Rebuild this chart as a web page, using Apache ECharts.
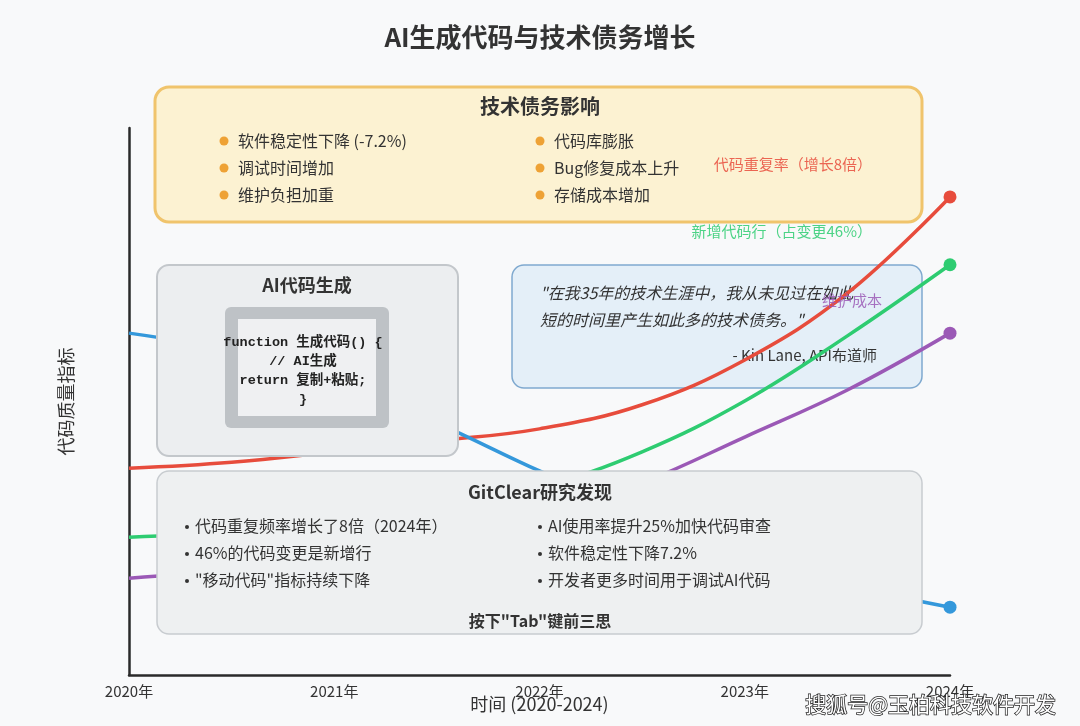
<!DOCTYPE html>
<html style="height: 100%">
<head>
    <meta charset="utf-8">
    <script src="https://cdn.jsdelivr.net/npm/echarts@6/dist/echarts.min.js"></script>
</head>
<body style="height: 100%; margin: 0; background: #f8f9fa">
    <div id="main" style="width:1080px;height:726px;"></div>
    <script type="text/javascript">
        // 数据（从原图读取，半年一个点）
        var years = [2020, 2020.5, 2021, 2021.5, 2022, 2022.5, 2023, 2023.5, 2024];
        var dupRate = [37.8, 38.9, 40.8, 42.8, 45.0, 49.4, 57.6, 69.8, 87.4];
        var newLines = [25.2, 26.0, 27.2, 29.8, 34.2, 40.8, 50.1, 62.0, 75.0];
        var maintCost = [17.7, 19.2, 21.0, 23.8, 28.5, 35.1, 43.5, 52.1, 62.5];
        var movedCode = [62.5, 59.2, 53.9, 46.1, 37.3, 29.3, 22.3, 16.5, 12.4];

        var debtLeft = ['软件稳定性下降 (-7.2%)', '调试时间增加', '维护负担加重'];
        var debtRight = ['代码库膨胀', 'Bug修复成本上升', '存储成本增加'];
        var codeLines = ['function 生成代码() {', '// AI生成', 'return 复制+粘贴;', '}'];
        var quoteLines = ['"在我35年的技术生涯中，我从未见过在如此', '短的时间里产生如此多的技术债务。"'];
        var findLeft = ['代码重复频率增长了8倍（2024年）', '46%的代码变更是新增行', '"移动代码"指标持续下降'];
        var findRight = ['AI使用率提升25%加快代码审查', '软件稳定性下降7.2%', '开发者更多时间用于调试AI代码'];

        var FONT = '"Noto Sans CJK SC", "Noto Sans", sans-serif';
        var myChart = echarts.init(document.getElementById('main'));

        function makeSeries(name, vals, color, label, lx) {
            var data = [];
            for (var i = 0; i < years.length; i++) {
                if (i === years.length - 1) {
                    var item = { value: [years[i], vals[i]], symbol: 'circle', symbolSize: 13 };
                    if (label) {
                        item.label = {
                            show: true, formatter: label, position: [lx, -26.5],
                            align: 'right', verticalAlign: 'middle',
                            color: color, opacity: 0.85, fontSize: 15, fontFamily: FONT
                        };
                    }
                    data.push(item);
                } else {
                    data.push([years[i], vals[i]]);
                }
            }
            return {
                name: name, type: 'line', smooth: 0.4, symbol: 'none', z: 2,
                lineStyle: { color: color, width: 3.5 },
                itemStyle: { color: color },
                data: data
            };
        }

        function txt(x, y, text, size, opts) {
            opts = opts || {};
            return {
                type: 'text', z: opts.z || 11,
                style: {
                    x: x, y: y, text: text,
                    fontSize: size, fontFamily: opts.family || FONT,
                    fontWeight: opts.bold ? 'bold' : 'normal',
                    fontStyle: opts.italic ? 'italic' : 'normal',
                    fill: opts.color || '#333',
                    align: opts.align || 'left', verticalAlign: 'middle'
                }
            };
        }

        var graphics = [];
        // 标题
        graphics.push(txt(540, 37, 'AI生成代码与技术债务增长', 26, { bold: true, align: 'center' }));

        // 技术债务影响
        graphics.push({ type: 'rect', z: 1, shape: { x: 155, y: 87, width: 767, height: 135, r: 14 },
            style: { fill: '#fcf2d2', stroke: '#f0c46c', lineWidth: 3 } });
        graphics.push(txt(540, 106, '技术债务影响', 20, { bold: true, align: 'center', z: 1 }));
        for (var i = 0; i < debtLeft.length; i++) {
            var yy = 141 + i * 27;
            graphics.push({ type: 'circle', z: 1, shape: { cx: 224, cy: yy, r: 4.5 }, style: { fill: '#eea235' } });
            graphics.push(txt(238, yy, debtLeft[i], 16, { z: 1 }));
            graphics.push({ type: 'circle', z: 1, shape: { cx: 540, cy: yy, r: 4.5 }, style: { fill: '#eea235' } });
            graphics.push(txt(554, yy, debtRight[i], 16, { z: 1 }));
        }

        // AI代码生成
        graphics.push({ type: 'rect', z: 10, shape: { x: 157, y: 265, width: 301, height: 191, r: 12 },
            style: { fill: '#eceef0', stroke: '#c3c7cb', lineWidth: 2 } });
        graphics.push(txt(307, 285, 'AI代码生成', 18, { bold: true, align: 'center' }));
        graphics.push({ type: 'rect', z: 11, shape: { x: 225, y: 307, width: 164, height: 121, r: 6 },
            style: { fill: '#bec2c6' } });
        graphics.push({ type: 'rect', z: 11, shape: { x: 238, y: 319, width: 138, height: 97 },
            style: { fill: '#eff0f2' } });
        for (var i = 0; i < codeLines.length; i++) {
            graphics.push(txt(303, 343 + i * 19, codeLines[i], 13.5,
                { bold: true, align: 'center', z: 12, color: '#222', family: '"Courier New", "Liberation Mono", "Noto Sans CJK SC", monospace' }));
        }

        // 引言
        graphics.push({ type: 'rect', z: 1, shape: { x: 512, y: 265, width: 410, height: 123, r: 12 },
            style: { fill: 'rgba(215,231,246,0.6)', stroke: '#7fa9cf', lineWidth: 1.5 } });
        graphics.push(txt(540, 293, quoteLines[0], 16, { italic: true, z: 1 }));
        graphics.push(txt(540, 320, quoteLines[1], 16, { italic: true, z: 1 }));
        graphics.push(txt(877, 355, '- Kin Lane, API布道师', 15, { align: 'right', z: 1 }));

        // GitClear研究发现
        graphics.push({ type: 'rect', z: 10, shape: { x: 157, y: 471, width: 765, height: 163, r: 12 },
            style: { fill: '#eef0f1', stroke: '#c8ccd0', lineWidth: 1.5 } });
        graphics.push(txt(540, 492, 'GitClear研究发现', 18, { bold: true, align: 'center' }));
        for (var i = 0; i < findLeft.length; i++) {
            var gy = 526 + i * 27;
            graphics.push({ type: 'circle', z: 11, shape: { cx: 187, cy: gy + 1, r: 2 }, style: { fill: '#333' } });
            graphics.push(txt(195, gy, findLeft[i], 16));
            graphics.push({ type: 'circle', z: 11, shape: { cx: 540, cy: gy + 1, r: 2 }, style: { fill: '#333' } });
            graphics.push(txt(548, gy, findRight[i], 16));
        }
        graphics.push(txt(540, 621, '按下"Tab"键前三思', 16, { bold: true, align: 'center' }));

        // 水印
        graphics.push({ type: 'text', z: 20, style: {
            x: 1056, y: 704, text: '搜狐号@玉柏科技软件开发', fontSize: 21, fontFamily: FONT,
            fill: '#fff', stroke: '#222', lineWidth: 1.5, align: 'right', verticalAlign: 'middle'
        } });

        var option = {
            backgroundColor: '#f8f9fa',
            animation: false,
            grid: { left: 129, right: 130, top: 128, bottom: 51 },
            xAxis: {
                type: 'value', min: 2020, max: 2024, interval: 1,
                name: '时间 (2020-2024)', nameLocation: 'middle', nameGap: 20,
                nameMoveOverlap: false,
                nameTextStyle: { fontSize: 18, color: '#333', fontFamily: FONT },
                axisLine: { lineStyle: { color: '#2a2a2a', width: 2.5 } },
                axisTick: { show: false },
                splitLine: { show: false },
                axisLabel: {
                    formatter: function (v) { return v + '年'; },
                    fontSize: 15, color: '#333', fontFamily: FONT, margin: 9
                }
            },
            yAxis: {
                type: 'value', min: 0, max: 100,
                name: '代码质量指标', nameLocation: 'middle', nameGap: 54,
                nameTextStyle: { fontSize: 18, color: '#333', fontFamily: FONT },
                axisLine: { show: true, lineStyle: { color: '#2a2a2a', width: 2.5 } },
                axisTick: { show: false },
                axisLabel: { show: false },
                splitLine: { show: false }
            },
            series: [
                makeSeries('代码重复率', dupRate, '#e74c3c', '代码重复率（增长8倍）', -71.5),
                makeSeries('新增代码行', newLines, '#2ecc71', '新增代码行（占变更46%）', -71.5),
                makeSeries('维护成本', maintCost, '#9b59b6', '维护成本', -61.5),
                makeSeries('移动代码', movedCode, '#3498db', null, 0)
            ],
            graphic: graphics
        };

        myChart.setOption(option);
    </script>
</body>
</html>
